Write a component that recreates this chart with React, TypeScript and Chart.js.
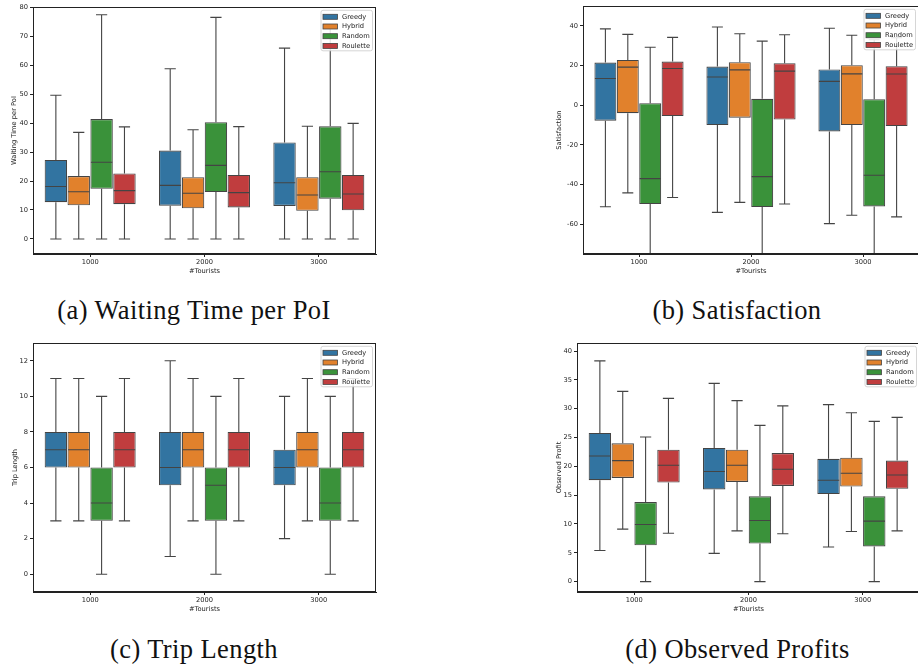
import React, { useEffect, useRef } from "react";
import { Chart, registerables } from "chart.js";

Chart.register(...registerables);

// ---------- data ----------
const categories = ["1000", "2000", "3000"];
const seriesNames = ["Greedy", "Hybrid", "Random", "Roulette"];
const seriesColors = ["#3274a1", "#e1812c", "#3a923a", "#c03d3e"];

// each entry: [min, q1, median, q3, max] for 1000 / 2000 / 3000 tourists
const waitGreedy = [[0, 12.7, 18.1, 27.3, 49.6], [0, 11.5, 18.5, 30.5, 58.8], [0, 11.4, 19.4, 33.3, 65.9]];
const waitHybrid = [[0, 11.6, 16.3, 21.7, 36.8], [0, 10.6, 15.8, 21.3, 37.7], [0, 9.7, 15.2, 21.3, 38.9]];
const waitRandom = [[0, 17.3, 26.5, 41.4, 77.4], [0, 16.2, 25.4, 40.3, 76.5], [0, 13.9, 23.2, 38.9, 74.0]];
const waitRoulette = [[0, 12.0, 16.7, 22.6, 38.7], [0, 10.9, 16.0, 22.1, 38.8], [0, 9.9, 15.5, 22.1, 39.9]];
const waitTicks = [0, 10, 20, 30, 40, 50, 60, 70, 80];

const satGreedy = [[-51.2, -7.8, 13.5, 21.5, 38.5], [-54.0, -10.0, 14.2, 19.5, 39.4], [-59.7, -13.2, 12.0, 18.0, 38.8]];
const satHybrid = [[-44.2, -4.0, 19.2, 22.8, 35.7], [-49.0, -6.3, 17.8, 21.7, 36.0], [-55.5, -10.0, 15.8, 20.2, 35.3]];
const satRandom = [[-82, -49.8, -37.0, 1.0, 29.2], [-82, -51.3, -36.0, 3.2, 32.3], [-82, -51.0, -35.3, 3.0, 33.0]];
const satRoulette = [[-46.5, -5.5, 18.5, 22.0, 34.2], [-49.8, -7.2, 17.2, 21.2, 35.5], [-56.3, -10.5, 15.7, 19.7, 34.0]];
const satTicks = [-60, -40, -20, 0, 20, 40];

const tripGreedy = [[3, 6, 7, 8, 11], [1, 5, 6, 8, 12], [2, 5, 6, 7, 10]];
const tripHybrid = [[3, 6, 7, 8, 11], [3, 6, 7, 8, 11], [3, 6, 7, 8, 11]];
const tripRandom = [[0, 3, 4, 6, 10], [0, 3, 5, 6, 10], [0, 3, 4, 6, 10]];
const tripRoulette = [[3, 6, 7, 8, 11], [3, 6, 7, 8, 11], [3, 6, 7, 8, 11]];
const tripTicks = [0, 2, 4, 6, 8, 10, 12];

const profitGreedy = [[5.4, 17.6, 21.8, 25.8, 38.3], [4.9, 16.0, 19.1, 23.2, 34.4], [6.0, 15.2, 17.6, 21.3, 30.7]];
const profitHybrid = [[9.1, 18.0, 21.0, 24.0, 33.0], [8.8, 17.3, 20.2, 22.9, 31.4], [8.7, 16.5, 18.8, 21.5, 29.3]];
const profitRandom = [[0, 6.3, 9.9, 13.8, 25.1], [0, 6.6, 10.6, 14.8, 27.1], [0, 6.1, 10.5, 14.8, 27.8]];
const profitRoulette = [[8.4, 17.2, 20.2, 22.9, 31.8], [8.3, 16.6, 19.5, 22.3, 30.5], [8.8, 16.1, 18.5, 21.0, 28.5]];
const profitTicks = [0, 5, 10, 15, 20, 25, 30, 35, 40];

// ---------- styling ----------
const FONT = "'DejaVu Sans', sans-serif";
const FS = 6.7;
const LINE = "#444444";
const TEXT = "#222222";

const boxPlugin = {
  id: "boxWhiskers",
  afterDatasetsDraw(chart: any) {
    const { ctx, chartArea } = chart;
    const y = chart.scales.y;
    ctx.save();
    ctx.beginPath();
    ctx.rect(chartArea.left, chartArea.top, chartArea.right - chartArea.left, chartArea.bottom - chartArea.top);
    ctx.clip();
    ctx.strokeStyle = LINE;
    ctx.lineWidth = 1.1;
    chart.data.datasets.forEach((ds: any, di: number) => {
      const meta = chart.getDatasetMeta(di);
      meta.data.forEach((bar: any, i: number) => {
        const s = ds.stats[i];
        const x = bar.x;
        const w = bar.width;
        const half = w / 2 - 0.5;
        const cap = w / 4;
        const pMin = y.getPixelForValue(s[0]);
        const pQ1 = y.getPixelForValue(s[1]);
        const pMed = y.getPixelForValue(s[2]);
        const pQ3 = y.getPixelForValue(s[3]);
        const pMax = y.getPixelForValue(s[4]);
        ctx.beginPath();
        ctx.moveTo(x, pQ3);
        ctx.lineTo(x, pMax);
        ctx.moveTo(x, pQ1);
        ctx.lineTo(x, pMin);
        ctx.moveTo(x - cap, pMax);
        ctx.lineTo(x + cap, pMax);
        ctx.moveTo(x - cap, pMin);
        ctx.lineTo(x + cap, pMin);
        ctx.moveTo(x - half, pMed);
        ctx.lineTo(x + half, pMed);
        ctx.stroke();
      });
    });
    ctx.restore();
  },
};

const framePlugin = {
  id: "frameAndLegend",
  afterDraw(chart: any) {
    const { ctx, chartArea } = chart;
    ctx.save();
    ctx.strokeStyle = TEXT;
    ctx.lineWidth = 1;
    ctx.strokeRect(
      Math.round(chartArea.left) + 0.5,
      Math.round(chartArea.top) + 0.5,
      Math.round(chartArea.right - chartArea.left) - 1,
      Math.round(chartArea.bottom - chartArea.top) - 1
    );
    // legend
    const w = 51.5;
    const h = 40.5;
    const right = chartArea.right - 3.5;
    const left = right - w;
    const top = chartArea.top + 3.3;
    const r = 2;
    ctx.beginPath();
    ctx.moveTo(left + r, top);
    ctx.lineTo(left + w - r, top);
    ctx.arcTo(left + w, top, left + w, top + r, r);
    ctx.lineTo(left + w, top + h - r);
    ctx.arcTo(left + w, top + h, left + w - r, top + h, r);
    ctx.lineTo(left + r, top + h);
    ctx.arcTo(left, top + h, left, top + h - r, r);
    ctx.lineTo(left, top + r);
    ctx.arcTo(left, top, left + r, top, r);
    ctx.closePath();
    ctx.fillStyle = "rgba(255,255,255,0.85)";
    ctx.fill();
    ctx.strokeStyle = "#cccccc";
    ctx.lineWidth = 0.8;
    ctx.stroke();
    ctx.font = `${FS}px ${FONT}`;
    ctx.textBaseline = "middle";
    ctx.textAlign = "left";
    chart.data.datasets.forEach((ds: any, i: number) => {
      const cy = top + 6.5 + i * 9.7;
      ctx.fillStyle = ds.backgroundColor;
      ctx.fillRect(left + 2, cy - 2.5, 14.5, 5);
      ctx.strokeStyle = LINE;
      ctx.lineWidth = 0.8;
      ctx.strokeRect(left + 2, cy - 2.5, 14.5, 5);
      ctx.fillStyle = TEXT;
      ctx.fillText(ds.label, left + 21, cy);
    });
    ctx.restore();
  },
};

type Geo = { cl: number; ct: number; cw: number; ch: number; l: number; t: number; r: number; b: number; yTitleX: number; xTitleY: number };

function Panel(props: { geo: Geo; series: number[][][]; ticks: number[]; yMin: number; yMax: number; yTitle: string }) {
  const ref = useRef<HTMLCanvasElement | null>(null);
  const { geo, series, ticks, yMin, yMax, yTitle } = props;
  useEffect(() => {
    if (!ref.current) return;
    const lh = FS * 1.2;
    const yAxisW = geo.l - geo.cl;
    const xAxisH = geo.ct + geo.ch - geo.b;
    const chart = new Chart(ref.current, {
      type: "bar",
      data: {
        labels: categories,
        datasets: series.map((s, i) => ({
          label: seriesNames[i],
          data: s.map((v) => [v[1], v[3]]),
          stats: s,
          backgroundColor: seriesColors[i],
          borderColor: LINE,
          borderWidth: 1.1,
          borderSkipped: false,
          categoryPercentage: 0.8,
          barPercentage: 0.98,
        })) as any,
      },
      options: {
        responsive: false,
        animation: false,
        layout: {
          padding: { left: 0, top: geo.t - geo.ct, right: geo.cl + geo.cw - geo.r, bottom: 0 },
        },
        plugins: { legend: { display: false }, tooltip: { enabled: false } },
        scales: {
          x: {
            type: "category",
            offset: true,
            grid: { display: true, drawOnChartArea: false, drawTicks: true, tickLength: 3, offset: false, color: TEXT, lineWidth: 1 },
            border: { display: true, color: TEXT, width: 1 },
            ticks: { color: TEXT, font: { family: FONT, size: FS }, padding: 1 },
            title: {
              display: true,
              text: "#Tourists",
              color: TEXT,
              font: { family: FONT, size: FS },
              padding: { top: 0, bottom: geo.ct + geo.ch - geo.xTitleY - lh / 2 },
            },
            afterFit: (s: any) => {
              s.height = xAxisH;
            },
          },
          y: {
            type: "linear",
            min: yMin,
            max: yMax,
            grid: { display: true, drawOnChartArea: false, drawTicks: true, tickLength: 3, color: TEXT, lineWidth: 1 },
            border: { display: true, color: TEXT, width: 1 },
            ticks: { color: TEXT, font: { family: FONT, size: FS }, padding: 2 },
            afterBuildTicks: (s: any) => {
              s.ticks = ticks.map((v) => ({ value: v }));
            },
            title: {
              display: true,
              text: yTitle,
              color: TEXT,
              font: { family: FONT, size: FS },
              padding: { top: geo.yTitleX - geo.cl - lh / 2, bottom: 0 },
            },
            afterFit: (s: any) => {
              s.width = yAxisW;
            },
          },
        },
      } as any,
      plugins: [boxPlugin, framePlugin],
    });
    return () => chart.destroy();
  }, []);
  return (
    <canvas
      ref={ref}
      width={geo.cw}
      height={geo.ch}
      style={{ position: "absolute", left: geo.cl, top: geo.ct, width: geo.cw, height: geo.ch }}
    />
  );
}

function Caption(props: { cx: number; cy: number; text: string }) {
  return (
    <div
      style={{
        position: "absolute",
        left: props.cx - 200,
        top: props.cy - 15,
        width: 400,
        height: 30,
        lineHeight: "30px",
        textAlign: "center",
        fontFamily: "'Liberation Serif', serif",
        fontSize: 26.5,
        letterSpacing: 0.4,
        color: "#111",
        whiteSpace: "nowrap",
      }}
    >
      {props.text}
    </div>
  );
}

export default function App() {
  const geoA: Geo = { cl: 0, ct: 0, cw: 380, ch: 280, l: 33, t: 7, r: 376, b: 254, yTitleX: 14.5, xTitleY: 271 };
  const geoB: Geo = { cl: 540, ct: 0, cw: 385, ch: 280, l: 583, t: 5, r: 919, b: 254, yTitleX: 559, xTitleY: 271 };
  const geoC: Geo = { cl: 0, ct: 335, cw: 380, ch: 280, l: 33, t: 343, r: 376, b: 592, yTitleX: 15, xTitleY: 609 };
  const geoD: Geo = { cl: 540, ct: 335, cw: 385, ch: 280, l: 577, t: 343, r: 920, b: 592, yTitleX: 559, xTitleY: 609 };
  return (
    <div style={{ position: "absolute", left: 0, top: 0, width: 918, height: 667, overflow: "hidden", background: "#fff" }}>
      <Panel geo={geoA} series={[waitGreedy, waitHybrid, waitRandom, waitRoulette]} ticks={waitTicks} yMin={-5.2} yMax={80.1} yTitle="Waiting Time per PoI" />
      <Panel geo={geoB} series={[satGreedy, satHybrid, satRandom, satRoulette]} ticks={satTicks} yMin={-75} yMax={50} yTitle="Satisfaction" />
      <Panel geo={geoC} series={[tripGreedy, tripHybrid, tripRandom, tripRoulette]} ticks={tripTicks} yMin={-1} yMax={13} yTitle="Trip Length" />
      <Panel geo={geoD} series={[profitGreedy, profitHybrid, profitRandom, profitRoulette]} ticks={profitTicks} yMin={-1.8} yMax={41.4} yTitle="Observed Profit" />
      <Caption cx={194} cy={310} text="(a) Waiting Time per PoI" />
      <Caption cx={737} cy={310} text="(b) Satisfaction" />
      <Caption cx={194} cy={649} text="(c) Trip Length" />
      <Caption cx={737.5} cy={649} text="(d) Observed Profits" />
    </div>
  );
}
